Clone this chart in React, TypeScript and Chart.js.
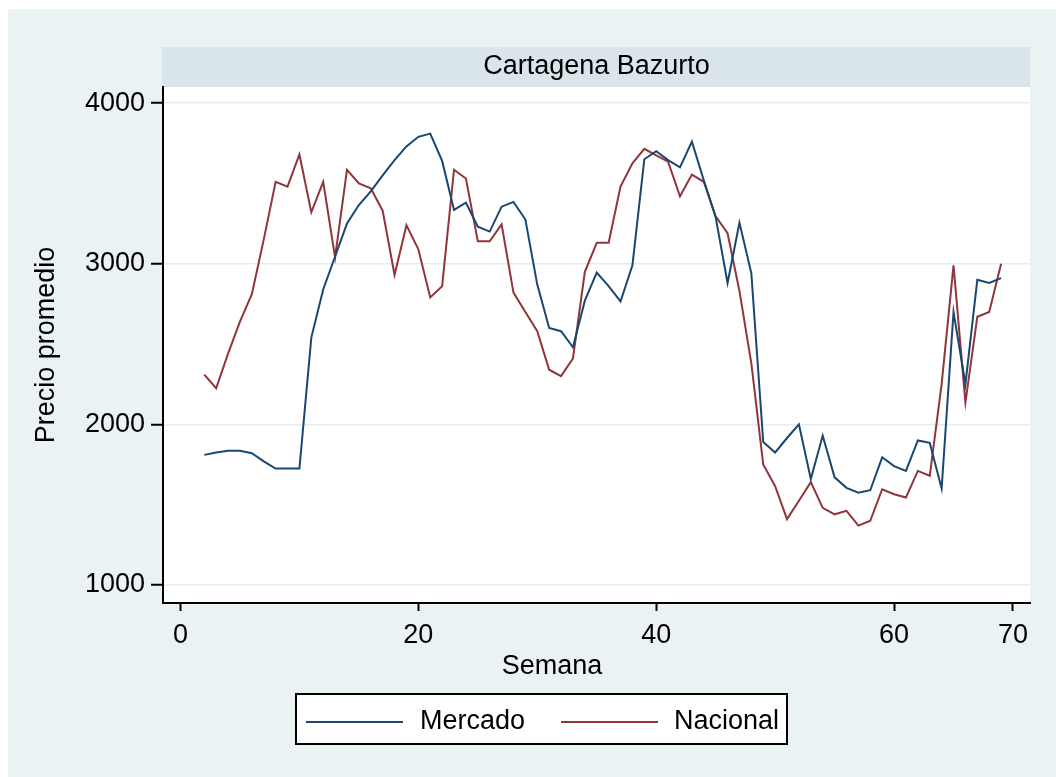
import React, { useEffect, useRef } from "react";
import { Chart, registerables } from "chart.js";

Chart.register(...registerables);

const weeks = [2, 3, 4, 5, 6, 7, 8, 9, 10, 11, 12, 13, 14, 15, 16, 17, 18, 19, 20, 21, 22, 23, 24, 25, 26, 27, 28, 29, 30, 31, 32, 33, 34, 35, 36, 37, 38, 39, 40, 41, 42, 43, 44, 45, 46, 47, 48, 49, 50, 51, 52, 53, 54, 55, 56, 57, 58, 59, 60, 61, 62, 63, 64, 65, 66, 67, 68, 69];

const mercado = [1810, 1825, 1835, 1835, 1820, 1770, 1725, 1725, 1725, 2540, 2840, 3045, 3250, 3365, 3450, 3550, 3645, 3730, 3790, 3810, 3640, 3335, 3380, 3230, 3200, 3355, 3385, 3275, 2870, 2600, 2580, 2480, 2770, 2945, 2860, 2765, 2990, 3650, 3700, 3645, 3600, 3760, 3520, 3290, 2880, 3255, 2940, 1890, 1825, 1915, 2000, 1660, 1930, 1670, 1605, 1575, 1590, 1795, 1740, 1710, 1900, 1885, 1600, 2700, 2250, 2900, 2880, 2910];

const nacional = [2310, 2225, 2440, 2640, 2810, 3150, 3510, 3480, 3680, 3320, 3510, 3040, 3585, 3500, 3470, 3330, 2930, 3240, 3090, 2790, 2860, 3585, 3530, 3140, 3140, 3245, 2820, 2700, 2580, 2340, 2300, 2410, 2950, 3130, 3130, 3480, 3625, 3715, 3675, 3635, 3420, 3555, 3510, 3295, 3190, 2830, 2380, 1750, 1615, 1410, 1525, 1640, 1480, 1440, 1462, 1370, 1400, 1596, 1565, 1545, 1710, 1680, 2250, 2990, 2135, 2670, 2700, 3000];

const xTicks = [0, 20, 40, 60, 70];
const yTicks = [1000, 2000, 3000, 4000];

const seriesNames = ["Mercado", "Nacional"];
const seriesColors = ["#1A476F", "#90353B"];
const xAxisTitle = "Semana";

const FONT = "'Liberation Sans', Arial, sans-serif";

const backgroundPlugin = {
  id: "stataBackground",
  beforeDraw(chart: any) {
    const { ctx, chartArea } = chart;
    ctx.save();
    ctx.fillStyle = "#FFFFFF";
    ctx.fillRect(0, 0, chart.width, chart.height);
    ctx.fillStyle = "#EAF2F3";
    ctx.fillRect(8, 9, chart.width - 8, chart.height - 9);
    ctx.fillStyle = "#FFFFFF";
    ctx.fillRect(chartArea.left, chartArea.top, chartArea.right - chartArea.left, chartArea.bottom - chartArea.top);
    ctx.fillStyle = "#D9E5EB";
    ctx.fillRect(chartArea.left - 1, chartArea.top - 40, chartArea.right - chartArea.left + 1, 40);
    ctx.restore();
  },
};

const legendPlugin = {
  id: "stataLegend",
  afterDraw(chart: any) {
    const { ctx } = chart;
    ctx.save();
    // x-axis title (Stata centres it on the whole graph)
    ctx.fillStyle = "#000000";
    ctx.font = `27px ${FONT}`;
    ctx.textAlign = "center";
    ctx.textBaseline = "middle";
    ctx.fillText(xAxisTitle, 552, 667);

    const box = { x: 296, y: 694, w: 491, h: 50 };
    ctx.fillStyle = "#FFFFFF";
    ctx.fillRect(box.x, box.y, box.w, box.h);
    ctx.strokeStyle = "#000000";
    ctx.lineWidth = 2;
    ctx.strokeRect(box.x, box.y, box.w, box.h);
    const entries = [
      { lineX: 306, textX: 420 },
      { lineX: 561, textX: 674 },
    ];
    chart.data.datasets.forEach((ds: any, i: number) => {
      const e = entries[i];
      ctx.strokeStyle = ds.borderColor;
      ctx.lineWidth = 2;
      ctx.beginPath();
      ctx.moveTo(e.lineX, 722);
      ctx.lineTo(e.lineX + 97, 722);
      ctx.stroke();
      ctx.fillStyle = "#000000";
      ctx.font = `27px ${FONT}`;
      ctx.textBaseline = "alphabetic";
      ctx.textAlign = "left";
      ctx.fillText(ds.label, e.textX, 729);
    });
    ctx.restore();
  },
};

export default function App() {
  const canvasRef = useRef<HTMLCanvasElement | null>(null);

  useEffect(() => {
    const canvas = canvasRef.current;
    if (!canvas) return;
    const tickFont = { family: FONT, size: 27 };
    const chart = new Chart(canvas, {
      type: "line",
      data: {
        datasets: [mercado, nacional].map((vals, i) => ({
          label: seriesNames[i],
          data: weeks.map((w, j) => ({ x: w, y: vals[j] })),
          borderColor: seriesColors[i],
          backgroundColor: seriesColors[i],
          borderWidth: 2,
          pointRadius: 0,
          tension: 0,
          fill: false,
        })),
      },
      options: {
        animation: false,
        responsive: false,
        devicePixelRatio: 1,
        layout: { padding: { top: 47, left: 0, right: 26, bottom: 87 } },
        plugins: {
          legend: { display: false },
          tooltip: { enabled: false },
          title: {
            display: true,
            fullSize: false,
            text: "Cartagena Bazurto",
            color: "#000000",
            font: { family: FONT, size: 27, weight: "normal", lineHeight: 1.2 },
            padding: { top: 3, bottom: 4.6 },
          },
        },
        scales: {
          x: {
            type: "linear",
            min: -1.47,
            max: 71.43,
            afterBuildTicks: (s: any) => {
              s.ticks = xTicks.map((v) => ({ value: v }));
            },
            afterFit: (s: any) => {
              s.height = 87;
            },
            ticks: {
              color: "#000000",
              font: tickFont,
              padding: 8,
              autoSkip: false,
              maxRotation: 0,
              callback: (v: any) => String(v),
            },
            grid: {
              drawOnChartArea: false,
              drawTicks: true,
              tickLength: 8,
              tickWidth: 2,
              tickColor: "#000000",
            },
            border: { display: true, color: "#000000", width: 2 },
            title: { display: false },
          },
          y: {
            type: "linear",
            min: 888,
            max: 4100,
            afterBuildTicks: (s: any) => {
              s.ticks = yTicks.map((v) => ({ value: v }));
            },
            afterFit: (s: any) => {
              s.width = 163;
            },
            ticks: {
              color: "#000000",
              font: tickFont,
              padding: 6,
              autoSkip: false,
              callback: (v: any) => String(v),
            },
            grid: {
              color: "#E3EDF0",
              lineWidth: 1.5,
              drawTicks: true,
              tickLength: 12,
              tickWidth: 2,
              tickColor: "#000000",
            },
            border: { display: true, color: "#000000", width: 2 },
            title: {
              display: true,
              text: "Precio promedio",
              color: "#000000",
              font: tickFont,
              padding: { top: 30, bottom: 0 },
            },
          },
        },
      },
      plugins: [backgroundPlugin, legendPlugin],
    } as any);
    return () => chart.destroy();
  }, []);

  return (
    <div style={{ position: "absolute", left: 0, top: 0, width: 1056, height: 777 }}>
      <canvas ref={canvasRef} width={1056} height={777} style={{ display: "block" }} />
    </div>
  );
}
